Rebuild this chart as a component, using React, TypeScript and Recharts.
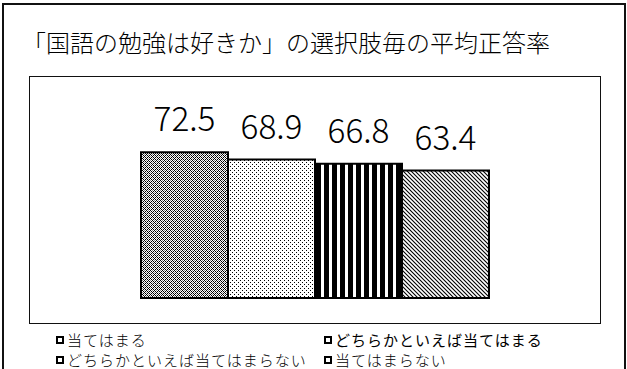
import React from 'react';
import { BarChart, Bar, XAxis, YAxis, Legend, LabelList } from 'recharts';

const categories = ['国語の勉強は好きか'];
const seriesKeys = ['s1', 's2', 's3', 's4'];
const seriesNames = ['当てはまる', 'どちらかといえば当てはまる', 'どちらかといえば当てはまらない', '当てはまらない'];
const seriesValues = [72.5, 68.9, 66.8, 63.4];
const patternIds = ['pat1', 'pat2', 'pat3', 'pat4'];
const titleText = '「国語の勉強は好きか」の選択肢毎の平均正答率';

const data = categories.map((c) => {
  const row: Record<string, any> = { category: c };
  seriesKeys.forEach((k, i) => {
    row[k] = seriesValues[i];
  });
  return row;
});

const legendLayout = [
  { left: 56, top: 333, bold: false },
  { left: 324, top: 333, bold: true },
  { left: 56, top: 353, bold: false },
  { left: 324, top: 353, bold: false },
];

const FONT = '"Noto Sans CJK JP", "Noto Sans", sans-serif';

const ValueLabel = (props: any) => {
  const { x, y, width, value } = props;
  return (
    <text
      x={Number(x) + Number(width) / 2}
      y={Number(y) - 21}
      textAnchor="middle"
      fontFamily={FONT}
      fontWeight={300}
      fontSize={34}
      fill="#000"
      textLength={62}
      lengthAdjust="spacingAndGlyphs"
    >
      {String(value)}
    </text>
  );
};

const LegendContent = (props: any) => {
  const payload: any[] = props.payload || [];
  const items = seriesKeys.map((k, i) => {
    const p = payload.find((e) => e.dataKey === k);
    return { name: p ? p.value : seriesNames[i], idx: i };
  });
  return (
    <div style={{ position: 'relative', width: 627, height: 369 }}>
      {items.map((it) => {
        const pos = legendLayout[it.idx];
        return (
          <div
            key={it.idx}
            style={{
              position: 'absolute',
              left: pos.left,
              top: pos.top,
              display: 'flex',
              alignItems: 'center',
              height: 14,
              whiteSpace: 'nowrap',
            }}
          >
            <div
              style={{
                width: 8,
                height: 8,
                border: '2px solid #000',
                background: '#fff',
                boxSizing: 'border-box',
                marginRight: 3,
              }}
            />
            <span
              style={{
                fontFamily: FONT,
                fontWeight: pos.bold ? 400 : 300,
                fontSize: 15,
                letterSpacing: 1,
                lineHeight: '14px',
                color: '#000',
              }}
            >
              {it.name}
            </span>
          </div>
        );
      })}
    </div>
  );
};

export default function App() {
  return (
    <div
      style={{
        position: 'absolute',
        left: 0,
        top: 0,
        width: 627,
        height: 369,
        overflow: 'hidden',
        background: '#fff',
      }}
    >
      <div
        style={{
          position: 'absolute',
          left: 2,
          top: 3,
          width: 624,
          height: 420,
          border: '2px solid #111',
          boxSizing: 'border-box',
        }}
      />
      <div
        style={{
          position: 'absolute',
          left: 29,
          top: 76,
          width: 572,
          height: 248,
          border: '1px solid #111',
          boxSizing: 'border-box',
        }}
      />
      <div
        style={{
          position: 'absolute',
          left: 22,
          top: 30,
          fontFamily: FONT,
          fontWeight: 300,
          fontSize: 24,
          lineHeight: '24px',
          color: '#000',
          whiteSpace: 'nowrap',
        }}
      >
        {titleText}
      </div>
      <div style={{ position: 'absolute', left: 0, top: 0 }}>
        <BarChart
          width={627}
          height={369}
          data={data}
          margin={{ top: 97, right: 27, bottom: 71, left: 29 }}
          barGap={0}
          barSize={87}
        >
          <defs>
            <pattern id="pat1" patternUnits="userSpaceOnUse" width={4} height={4}>
              <rect x={0} y={0} width={4} height={4} fill="#fff" />
              <rect x={0} y={0} width={1} height={1} fill="#000" />
              <rect x={1} y={1} width={1} height={1} fill="#000" />
              <rect x={2} y={2} width={1} height={1} fill="#000" />
              <rect x={3} y={3} width={1} height={1} fill="#000" />
              <rect x={1} y={3} width={1} height={1} fill="#000" />
              <rect x={3} y={1} width={1} height={1} fill="#000" />
              <rect x={0} y={2} width={1} height={1} fill="#888" />
              <rect x={2} y={0} width={1} height={1} fill="#888" />
            </pattern>
            <pattern id="pat2" patternUnits="userSpaceOnUse" width={4} height={4}>
              <rect x={0} y={0} width={4} height={4} fill="#fff" />
              <rect x={0} y={0} width={1} height={1} fill="#000" />
              <rect x={2} y={2} width={1} height={1} fill="#000" />
            </pattern>
            <pattern id="pat3" patternUnits="userSpaceOnUse" width={8} height={8} x={316}>
              <rect x={0} y={0} width={8} height={8} fill="#fff" />
              <rect x={0} y={0} width={5} height={8} fill="#000" />
            </pattern>
            <pattern id="pat4" patternUnits="userSpaceOnUse" width={4} height={4}>
              <rect x={0} y={0} width={4} height={4} fill="#fff" />
              <path d="M0,0 L4,4 M-1,3 L1,5 M3,-1 L5,1" stroke="#000" strokeWidth={1.1} />
            </pattern>
          </defs>
          <XAxis dataKey="category" hide />
          <YAxis domain={[0, 100]} hide />
          <Legend
            verticalAlign="middle"
            align="center"
            layout="horizontal"
            wrapperStyle={{ left: 0, top: 0, width: 627, height: 369 }}
            content={<LegendContent />}
          />
          {seriesKeys.map((k, i) => (
            <Bar
              key={k}
              dataKey={k}
              name={seriesNames[i]}
              fill={`url(#${patternIds[i]})`}
              stroke="#000"
              strokeWidth={2}
              isAnimationActive={false}
            >
              <LabelList dataKey={k} content={<ValueLabel />} />
            </Bar>
          ))}
        </BarChart>
      </div>
    </div>
  );
}
